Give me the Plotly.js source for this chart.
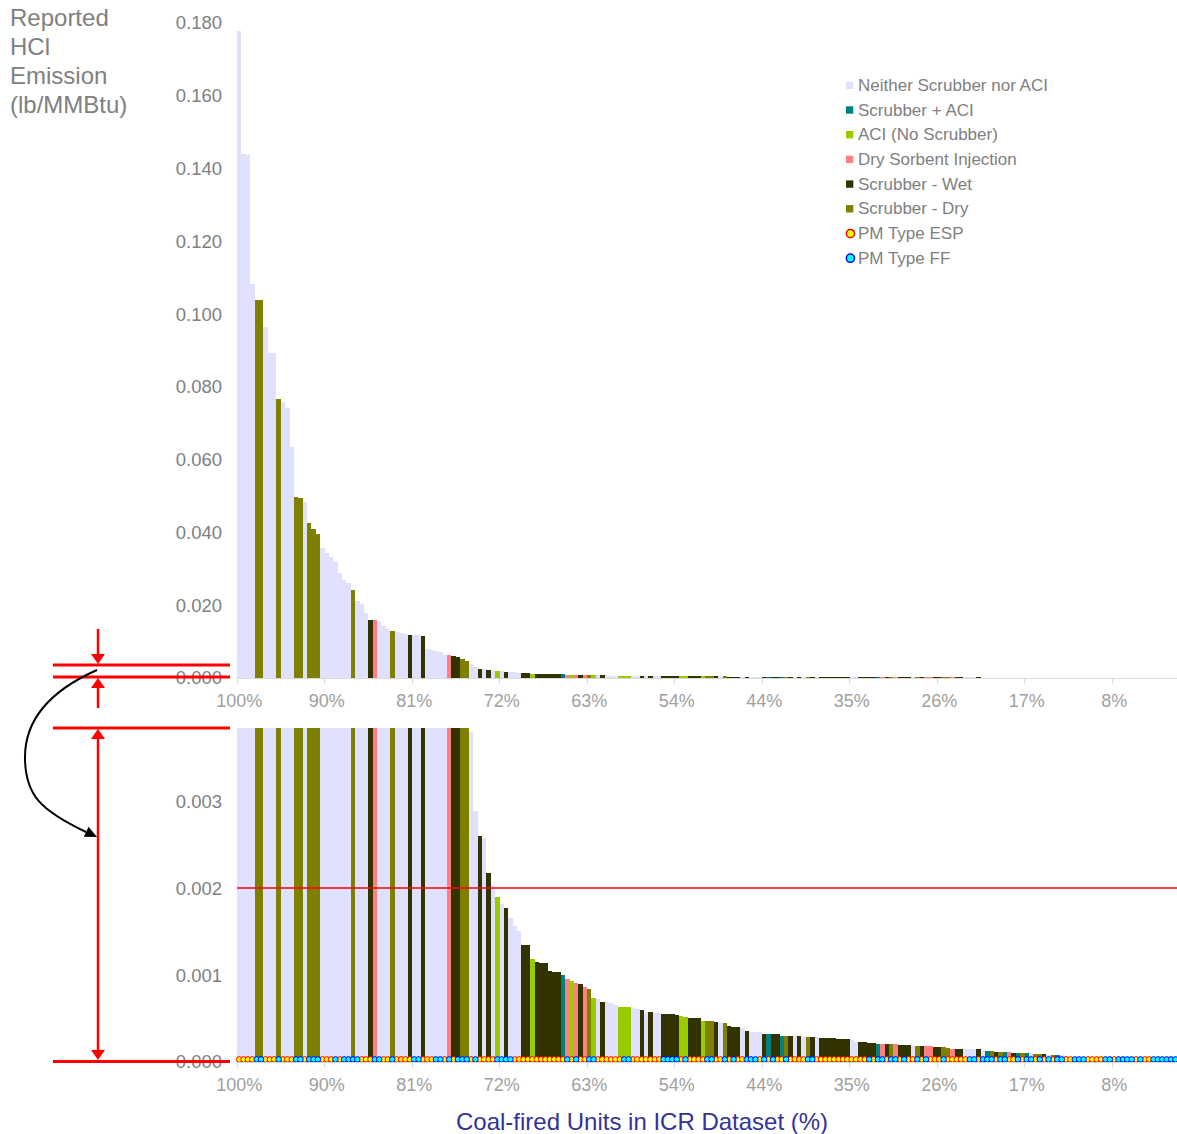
<!DOCTYPE html>
<html><head><meta charset="utf-8">
<script src="https://cdn.plot.ly/plotly-3.0.1.min.js"></script>
<style>html,body{margin:0;padding:0;background:#fff;overflow:hidden}</style>
</head><body><div id="chart" style="width:1177px;height:1134px"></div>
<script>
// ---------- DATA ----------
const hcl = [
0.1778,0.1440,0.1436,0.1083,0.1039,0.1039,0.0965,0.0893,0.0892,0.0767,
0.0758,0.0742,0.0636,0.0498,0.0496,0.0484,0.0425,0.0410,0.0396,0.0357,
0.0344,0.0332,0.0319,0.0289,0.0269,0.0262,0.0241,0.0212,0.0203,0.0179,
0.0159,0.0159,0.0157,0.0143,0.0134,0.0128,0.0126,0.0125,0.0121,0.0119,
0.0117,0.0117,0.0115,0.0079,0.0077,0.0073,0.0072,0.0062,0.0062,0.0060,
0.0057,0.0051,0.0048,0.00379,0.00289,0.00260,0.00258,0.00217,0.00204,0.00190,
0.00182,0.00177,0.00166,0.00156,0.00151,0.00134,0.00134,0.00118,0.00115,0.00114,
0.00114,0.00105,0.00104,0.00103,0.00100,0.00096,0.00093,0.00091,0.00090,0.00086,
0.00084,0.00074,0.00072,0.00069,0.00069,0.00068,0.00065,0.00063,0.00063,0.00063,
0.00062,0.00061,0.00060,0.00058,0.00057,0.00056,0.00056,0.00055,0.00055,0.00055,
0.00054,0.00053,0.00052,0.00051,0.00051,0.00051,0.00047,0.00047,0.00047,0.00046,
0.00046,0.00045,0.00041,0.00040,0.00040,0.00039,0.00036,0.00035,0.00035,0.00034,
0.00032,0.00032,0.00032,0.00032,0.00030,0.00030,0.00030,0.00030,0.00030,0.00029,
0.00029,0.00029,0.00029,0.00028,0.00028,0.00028,0.00028,0.00027,0.00027,0.00026,
0.00025,0.00023,0.00023,0.00023,0.00022,0.00022,0.00021,0.00021,0.00021,0.00021,
0.00021,0.00020,0.00020,0.00020,0.00018,0.00018,0.00018,0.00018,0.00018,0.00017,
0.00017,0.00017,0.00016,0.00015,0.00015,0.00015,0.00015,0.00015,0.00015,0.00015,
0.00013,0.00013,0.00013,0.00012,0.00012,0.00011,0.00011,0.00010,0.00010,0.00010,
0.00010,0.00010,0.00009,0.00009,0.00009,0.00008,0.00008,0.00008,0.00008,0.00007,
0.00006,0.00005,0.00005,0.00004,0.00004,0.00004,0.00003,0.00003,0.00003,0.00003,
0.00002,0.00002,0.00002,0.00002,0.00002,0.00002,0.00002,0.00001,0.00001,0.00001,
0.00001,0.00001,0.00001,0.00001,0.00001,0.00001,0.00001,0.00001
];
// N = neither, S = scrubber+ACI, A = ACI, D = DSI, W = wet scrubber, Y = dry scrubber
const controlType = [
'N','N','N','N','Y','Y','N','N','N','Y',
'N','N','N','Y','Y','N','Y','Y','Y','N',
'N','N','N','N','N','N','Y','N','N','N',
'W','D','N','N','N','Y','N','N','N','W',
'N','N','W','N','N','N','N','N','D','W',
'W','Y','Y','N','N','W','N','W','N','A',
'N','W','N','N','N','W','W','A','W','W',
'W','W','W','W','S','D','A','D','W','D',
'Y','A','N','W','N','N','N','A','A','A',
'N','N','W','N','W','N','N','W','W','W',
'W','A','A','W','W','W','A','Y','Y','W',
'N','Y','W','W','W','N','W','N','N','N',
'W','S','W','W','S','Y','W','N','W','N',
'Y','W','N','W','W','W','W','W','W','W',
'N','N','W','W','W','W','S','D','W','Y',
'D','W','W','W','N','Y','W','D','D','W',
'W','Y','Y','D','W','W','N','N','N','W',
'N','S','Y','W','Y','S','D','W','S','Y',
'S','N','Y','Y','W','N','Y','S','N','N',
'N','N','N','N','N','N','N','N','N','N',
'N','N','N','N','N','N','N','N','N','N',
'N','N','N','N','N','N','N','N'
];
// E = ESP, F = fabric filter
const pmType = [
'E','E','E','E','F','F','E','E','E','F',
'E','E','E','F','F','E','F','F','F','E',
'E','E','F','E','F','F','F','F','E','E',
'E','F','F','E','E','F','E','E','E','E',
'F','F','E','E','E','F','F','E','F','E',
'F','F','F','E','F','E','E','E','E','F',
'F','F','F','E','E','E','E','E','E','E',
'E','E','E','E','E','F','E','F','E','E',
'F','F','E','E','E','E','E','E','F','F',
'E','E','E','E','E','E','E','F','F','F',
'F','E','F','E','E','E','E','F','F','E',
'E','F','E','F','E','E','F','F','F','E',
'F','E','F','E','E','F','E','E','E','E',
'F','F','E','E','E','E','E','E','E','E',
'E','E','E','E','F','E','F','F','E','F',
'F','E','F','E','E','F','E','F','E','E',
'E','F','E','E','E','E','E','F','F','E',
'F','F','F','E','F','F','E','E','F','E',
'F','F','E','F','E','F','E','F','F','E',
'E','F','F','F','E','E','E','E','F','F',
'E','F','F','F','F','E','F','E','E','F',
'F','F','F','F','F','F','F','F'
];
const controlCodes = ['N','S','A','D','W','Y'];
const controlNames = ['Neither Scrubber nor ACI','Scrubber + ACI','ACI (No Scrubber)','Dry Sorbent Injection','Scrubber - Wet','Scrubber - Dry'];
const pmCodes = ['E','F'];
const pmNames = ['PM Type ESP','PM Type FF'];
const tickLabels = ['100%','90%','81%','72%','63%','54%','44%','35%','26%','17%','8%'];
const tickEvery = 20;
const referenceLevel = 0.002;

// ---------- STYLE ----------
const barColors = {N:'#E0E0FF', S:'#008080', A:'#99CC00', D:'#FF8080', W:'#333300', Y:'#808000'};
const pmFill = {E:'#FFFF00', F:'#00FFFF'};
const pmLine = {E:'#FF0000', F:'#0000FF'};
const FONT = 'Liberation Sans, Arial, sans-serif';
const L = 237, R = 1177, T = 23, B = 1062;
const px = x => (x - L) / (R - L);
const py = y => (B - y) / (B - T);

const idx = hcl.map((_, i) => i);
const traces = [];
controlCodes.forEach((code, k) => {
  const y = hcl.map((v, i) => controlType[i] === code ? v : null);
  ['', '2'].forEach(s => traces.push({
    type: 'bar', x: idx, y: y, xaxis: 'x' + s, yaxis: 'y' + s, width: 1,
    name: controlNames[k], showlegend: false, hoverinfo: 'skip',
    marker: {color: barColors[code], line: {width: 0}}
  }));
});
pmCodes.forEach((code, k) => {
  const xs = idx.filter(i => pmType[i] === code);
  traces.push({
    type: 'scatter', mode: 'markers', x: xs, y: xs.map(() => 0.00003),
    xaxis: 'x2', yaxis: 'y2', name: pmNames[k], showlegend: false, cliponaxis: false, hoverinfo: 'skip',
    marker: {symbol: 'circle', size: 5.5, color: pmFill[code], line: {color: pmLine[code], width: 1}}
  });
});

const xCommon = {
  range: [-0.5, -0.5 + (R - L) / 4.375], tickmode: 'array',
  tickvals: tickLabels.map((_, k) => k * tickEvery), ticktext: tickLabels,
  ticks: '', showgrid: false, zeroline: false, showline: true, linecolor: '#D9D9D9', linewidth: 1,
  tickfont: {size: 18, color: '#A0A0A0', family: FONT}, ticklabelstandoff: 6,
  minor: {tickmode: 'array', tickvals: tickLabels.map((_, k) => k * tickEvery - 0.5), ticks: 'outside', ticklen: 5, tickcolor: '#D9D9D9', tickwidth: 1, showgrid: false}
};
const yCommon = {
  tickformat: '.3f', ticks: '', showgrid: false, zeroline: false, showline: false,
  tickfont: {size: 18.5, color: '#808080', family: FONT}, ticklabelstandoff: 14
};

const shapes = [];
const red = '#FF0000';
function hline(y, x0, x1, w){ shapes.push({type:'line', xref:'paper', yref:'paper', x0:px(x0), x1:px(x1), y0:py(y), y1:py(y), line:{color:red, width:w}}); }
function vline(x, y0, y1, w){ shapes.push({type:'line', xref:'paper', yref:'paper', x0:px(x), x1:px(x), y0:py(y0), y1:py(y1), line:{color:red, width:w}}); }
function tri(pts, col){ shapes.push({type:'path', xref:'paper', yref:'paper', fillcolor:col, line:{width:0},
  path: 'M' + pts.map(p => px(p[0]) + ',' + py(p[1])).join('L') + 'Z'}); }
hline(665, 53, 230, 3); hline(677, 53, 230, 3); hline(728, 53, 230, 3); hline(1061.5, 53, 230, 3);
vline(98, 629, 656, 2.5); tri([[98,664],[91,654],[105,654]], red);
vline(98, 708, 686, 2.5); tri([[98,678],[91,688],[105,688]], red);
vline(98, 736, 1052, 2.5); tri([[98,729],[91,739],[105,739]], red); tri([[98,1060],[91,1050],[105,1050]], red);
shapes.push({type:'line', xref:'paper', x0:0, x1:1, yref:'y2', y0:referenceLevel, y1:referenceLevel, line:{color:red, width:1.5}});
// curved black arrow
const cp = [[97,670],[45,693],[24,725],[25,760],[26,795],[40,810],[86,832]];
shapes.push({type:'path', xref:'paper', yref:'paper', line:{color:'#000', width:2},
  path: 'M' + px(cp[0][0]) + ',' + py(cp[0][1]) + ' C' + [1,2,3].map(i => px(cp[i][0]) + ',' + py(cp[i][1])).join(' ') +
        ' C' + [4,5,6].map(i => px(cp[i][0]) + ',' + py(cp[i][1])).join(' ')});
tri([[97,837],[83.8,836.8],[88.6,826.8]], '#000');

// manual legend
const annotations = [];
const legendItems = controlCodes.map((c, k) => ({kind:'bar', code:c, name:controlNames[k]}))
  .concat(pmCodes.map((c, k) => ({kind:'pm', code:c, name:pmNames[k]})));
legendItems.forEach((it, k) => {
  const cy = 85.3 + 24.7 * k;
  if (it.kind === 'bar') {
    shapes.push({type:'rect', xref:'paper', yref:'paper', x0:px(846), x1:px(853.3), y0:py(cy-3.7), y1:py(cy+3.7), fillcolor:barColors[it.code], line:{width:0}});
  } else {
    shapes.push({type:'circle', xref:'paper', yref:'paper', x0:px(846.3), x1:px(854.5), y0:py(cy-4.1), y1:py(cy+4.1), fillcolor:pmFill[it.code], line:{color:pmLine[it.code], width:1.5}});
  }
  annotations.push({xref:'paper', yref:'paper', x:px(856), y:py(cy), xanchor:'left', yanchor:'middle', showarrow:false,
    text: it.name, font:{size:17, color:'#808080', family:FONT}});
});
['Reported','HCl','Emission','(lb/MMBtu)'].forEach((t, k) => {
  annotations.push({xref:'paper', yref:'paper', x:px(8), y:py(18 + 28.7 * k), xanchor:'left', yanchor:'middle', showarrow:false,
    text: t, font:{size:24, color:'#808080', family:FONT}});
});
annotations.push({xref:'paper', yref:'paper', x:px(642), y:py(1121), xanchor:'center', yanchor:'middle', showarrow:false,
  text:'Coal-fired Units in ICR Dataset (%)', font:{size:24, color:'#333399', family:FONT}});

const layout = {
  width: 1177, height: 1134, margin: {l: L, r: 1177 - R, t: T, b: 1134 - B},
  paper_bgcolor: '#FFFFFF', plot_bgcolor: '#FFFFFF', barmode: 'overlay', bargap: 0,
  font: {family: FONT, color: '#808080'}, showlegend: false,
  xaxis: Object.assign({}, xCommon, {anchor: 'y'}),
  xaxis2: Object.assign({}, xCommon, {anchor: 'y2', matches: 'x'}),
  yaxis: Object.assign({}, yCommon, {domain: [py(678), 1], range: [0, 0.18], dtick: 0.02, tick0: 0}),
  yaxis2: Object.assign({}, yCommon, {domain: [0, py(728)], range: [0, 0.00384], dtick: 0.001, tick0: 0}),
  shapes: shapes, annotations: annotations
};
Plotly.newPlot('chart', traces, layout, {displayModeBar: false, staticPlot: true});
</script></body></html>
